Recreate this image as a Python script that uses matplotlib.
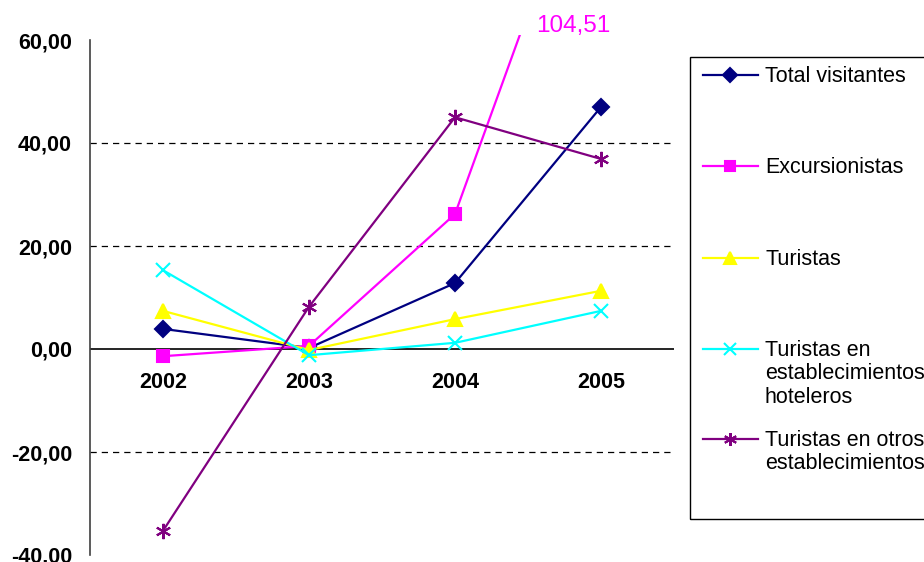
import matplotlib
matplotlib.use("Agg")
import matplotlib.pyplot as plt
from matplotlib.patches import Rectangle
from matplotlib.lines import Line2D

years = ["2002", "2003", "2004", "2005"]
total_visitantes = [3.9, 0.2, 12.8, 47.0]
excursionistas = [-1.4, 0.6, 26.2, 104.51]
turistas = [7.4, -0.2, 5.8, 11.3]
turistas_hoteleros = [15.3, -1.2, 1.2, 7.4]
turistas_otros = [-35.3, 8.2, 45.0, 36.9]
yticks = [-40, -20, 0, 20, 40, 60]
ytick_labels = ["-40,00", "-20,00", "0,00", "20,00", "40,00", "60,00"]
series_names = ["Total visitantes", "Excursionistas", "Turistas",
                "Turistas en\nestablecimientos\nhoteleros",
                "Turistas en otros\nestablecimientos"]
excursionistas_label = "104,51"

W, H = 924, 562
fig = plt.figure(figsize=(W / 100, H / 100), dpi=100)
ax = fig.add_axes([90 / W, 1 - 555 / H, (674 - 90) / W, (555 - 40) / H])

x = list(range(len(years)))
series = [
    (total_visitantes, "#000080", "D", 8),
    (excursionistas, "#FF00FF", "s", 8),
    (turistas, "#FFFF00", "^", 10),
    (turistas_hoteleros, "#00FFFF", "x", 10),
    (turistas_otros, "#800080", (6, 2, 0), 11),
]

clip = Rectangle((-0.5, -41), 4, 102, transform=ax.transData)
for vals, col, mk, ms in series:
    ln, = ax.plot(x, vals, color=col, marker=mk, markersize=ms, lw=1.6,
                  markeredgewidth=1.5, clip_on=True)
    ln.set_clip_path(clip)

ax.set_xlim(-0.5, 3.5)
ax.set_ylim(-40, 60)
for s in ["top", "right", "bottom"]:
    ax.spines[s].set_visible(False)
ax.spines["left"].set_color("#404040")
ax.spines["left"].set_linewidth(1.2)
ax.axhline(0, color="black", lw=1.2, zorder=1)
for g in [-20, 20, 40]:
    ax.axhline(g, color="black", lw=0.9, dashes=(5, 4), zorder=0)

ax.set_yticks(yticks)
ax.set_yticklabels(ytick_labels, fontsize=15.5, fontweight="bold",
                   family="Liberation Sans")
ax.tick_params(axis="y", length=0, pad=13)
ax.set_xticks([])
for i, yr in enumerate(years):
    ax.annotate(yr, (i, 0), xytext=(0, -24), textcoords="offset points",
                ha="center", va="center", fontsize=15.5, fontweight="bold",
                family="Liberation Sans")

ax.annotate(excursionistas_label, (3, 60), xytext=(573 / W, 1 - 26 / H),
            textcoords="figure fraction", xycoords="data",
            ha="center", va="center", fontsize=17.5, color="#FF00FF",
            family="Liberation Sans")

# Legend box
fig.patches.append(Rectangle((690 / W, 1 - 519 / H), 260 / W, (519 - 57) / H,
                             transform=fig.transFigure, fill=False,
                             edgecolor="black", lw=1.0))
leg_y = [75, 166, 258, 349, 439]
for (vals, col, mk, ms), name, yy in zip(series, series_names, leg_y):
    yf = 1 - yy / H
    fig.lines.append(Line2D([703 / W, 758 / W], [yf, yf], transform=fig.transFigure,
                            color=col, lw=1.6))
    fig.lines.append(Line2D([730 / W], [yf], transform=fig.transFigure,
                            color=col, marker=mk, markersize=ms * 0.85, markeredgewidth=1.5))
    fig.text(765 / W, yf + 9 / H, name, ha="left", va="top", fontsize=15.5,
             family="Liberation Sans", linespacing=1.15)

fig.savefig("out.png", dpi=100)
